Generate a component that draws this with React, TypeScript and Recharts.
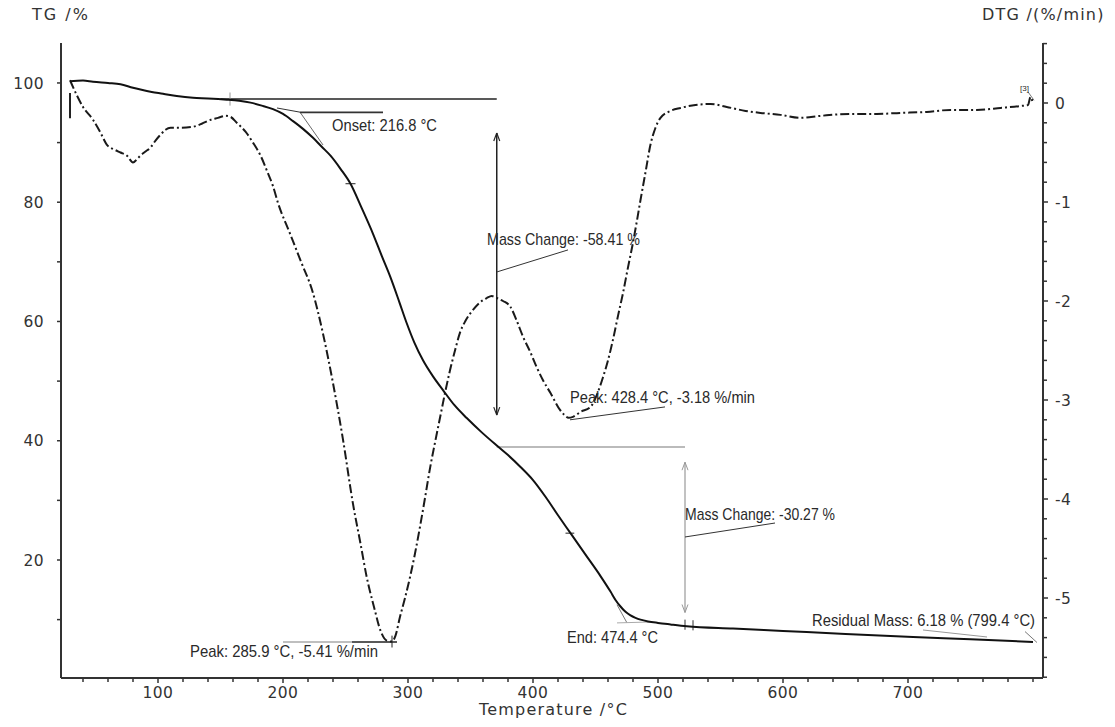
import React from "react";
import { ComposedChart, Line, XAxis, YAxis, ReferenceLine, ReferenceDot } from "recharts";

// ---- TG curve (mass %, left axis) ----
const tgTemp = [29.6, 40, 48, 60, 70, 80, 86, 95, 104, 115, 128, 140, 155, 165, 174, 183, 192, 200, 208, 216, 224, 231, 238, 246, 254, 263, 272, 279, 286, 293, 299, 305, 312, 320, 328, 337, 347, 359, 371, 380, 390, 400, 410, 420, 430, 442, 454, 462, 466, 470, 474, 478, 482, 486, 492, 500, 510, 523, 560, 600, 650, 704, 750, 800];
const tgMass = [100.3, 100.4, 100.2, 100.0, 99.8, 99.2, 98.9, 98.5, 98.2, 97.8, 97.5, 97.4, 97.2, 97.0, 96.7, 96.2, 95.6, 94.8, 93.6, 92.3, 90.8, 89.3, 87.8, 85.6, 83.1, 79.0, 74.7, 71.0, 67.4, 63.3, 59.7, 56.5, 53.5, 50.8, 48.5, 46.0, 43.8, 41.4, 39.2, 37.6, 35.6, 33.4, 30.6, 27.5, 24.5, 20.9, 17.3, 14.7, 13.3, 12.2, 11.3, 10.7, 10.3, 10.0, 9.7, 9.45, 9.2, 8.9, 8.5, 8.1, 7.6, 7.1, 6.7, 6.25];

// ---- DTG curve (%/min, right axis) ----
const dtgTemp = [29.6, 35, 40, 48, 54, 59, 65, 70, 75, 80, 83, 86, 90, 94, 98, 102, 106, 110, 118, 128, 135, 142, 148, 154, 158, 163, 170, 176, 182, 187, 192, 196, 205, 214, 224, 232, 240, 248, 256, 262, 267, 273, 278, 283, 287.2, 290, 293.6, 297.6, 301.6, 305.6, 309.6, 313.6, 317.6, 321.6, 325.6, 329.6, 333.6, 337.6, 341.6, 346, 352, 357, 363, 367, 371, 376, 382, 387, 392, 398, 403, 408, 414, 421.6, 425, 428.4, 432, 438, 446, 451, 456, 460, 464, 468, 472, 476, 480, 483, 486, 490, 494, 498, 502, 510, 518, 530, 542, 555, 570, 582, 598, 614, 630, 654, 675, 694, 715, 734, 755, 774, 790, 796, 798, 800];
const dtgRate = [0.23, 0.08, -0.04, -0.17, -0.3, -0.42, -0.47, -0.5, -0.53, -0.6, -0.57, -0.53, -0.49, -0.45, -0.38, -0.32, -0.27, -0.25, -0.25, -0.24, -0.21, -0.17, -0.15, -0.13, -0.14, -0.2, -0.29, -0.4, -0.53, -0.68, -0.84, -1.01, -1.3, -1.59, -1.92, -2.33, -2.83, -3.4, -4.05, -4.45, -4.79, -5.1, -5.33, -5.43, -5.44, -5.38, -5.19, -5.0, -4.79, -4.55, -4.28, -3.99, -3.69, -3.43, -3.18, -2.93, -2.7, -2.5, -2.32, -2.2, -2.09, -2.02, -1.97, -1.95, -1.97, -2.0, -2.06, -2.2, -2.36, -2.52, -2.67, -2.8, -2.93, -3.1, -3.15, -3.18, -3.17, -3.12, -3.07, -2.95, -2.77, -2.6, -2.39, -2.15, -1.92, -1.66, -1.41, -1.2, -0.98, -0.7, -0.42, -0.25, -0.15, -0.08, -0.05, -0.02, -0.01, -0.04, -0.08, -0.1, -0.12, -0.15, -0.13, -0.11, -0.11, -0.1, -0.09, -0.07, -0.07, -0.05, -0.03, -0.02, 0.06, -0.01];

// ---- ticks ----
const xTicks = [40, 60, 80, 100, 120, 140, 160, 180, 200, 220, 240, 260, 280, 300, 320, 340, 360, 380, 400, 420, 440, 460, 480, 500, 520, 540, 560, 580, 600, 620, 640, 660, 680, 700, 720, 740, 760, 780, 800];
const xLabelTicks = [100, 200, 300, 400, 500, 600, 700];
const tgTicks = [10, 20, 30, 40, 50, 60, 70, 80, 90, 100];
const tgLabelTicks = [20, 40, 60, 80, 100];
const dtgTicks = [-5.8, -5.6, -5.4, -5.2, -5, -4.8, -4.6, -4.4, -4.2, -4, -3.8, -3.6, -3.4, -3.2, -3, -2.8, -2.6, -2.4, -2.2, -2, -1.8, -1.6, -1.4, -1.2, -1, -0.8, -0.6, -0.4, -0.2, 0, 0.2, 0.4, 0.6];
const dtgLabelTicks = [-5, -4, -3, -2, -1, 0];

// ---- axis titles (anchor in data coordinates of TG axis) ----
type Title = { t: number; v: number; text: string; anchor: "start" | "middle"; spacing: number };
const axisTitles: Title[] = [
  { t: -0.8, v: 110.5, text: "TG /%", anchor: "start", spacing: 2 },
  { t: 759.2, v: 110.5, text: "DTG /(%/min)", anchor: "start", spacing: 1.2 },
  { t: 416.4, v: -6.0, text: "Temperature /°C", anchor: "middle", spacing: 1.2 },
];

// ---- annotation lines (data coordinates) ----
type Seg = { axis: "tg" | "dtg"; a: [number, number]; b: [number, number]; color: string; w: number };
const annotationSegments: Seg[] = [
  { axis: "tg", a: [29.6, 98.3], b: [29.6, 94.1], color: "#222", w: 2 },
  { axis: "tg", a: [150, 97.3], b: [371, 97.3], color: "#222", w: 1.6 },
  { axis: "tg", a: [195.2, 95.8], b: [213.6, 95.1], color: "#333", w: 1 },
  { axis: "tg", a: [213.6, 95.1], b: [232, 89.6], color: "#444", w: 0.8 },
  { axis: "tg", a: [213.6, 95.05], b: [280, 95.05], color: "#333", w: 1.8 },
  { axis: "tg", a: [157.6, 98.4], b: [157.6, 96.2], color: "#999", w: 1 },
  { axis: "tg", a: [250, 83.1], b: [258, 83.1], color: "#222", w: 1 },
  { axis: "tg", a: [426, 24.5], b: [433, 24.5], color: "#222", w: 1 },
  // first mass-change arrow
  { axis: "tg", a: [371, 91.6], b: [371, 44.3], color: "#222", w: 1.5 },
  { axis: "tg", a: [368.6, 90.26], b: [371, 91.6], color: "#222", w: 1.2 },
  { axis: "tg", a: [373.4, 90.26], b: [371, 91.6], color: "#222", w: 1.2 },
  { axis: "tg", a: [368.6, 45.64], b: [371, 44.3], color: "#222", w: 1.2 },
  { axis: "tg", a: [373.4, 45.64], b: [371, 44.3], color: "#222", w: 1.2 },
  { axis: "tg", a: [371, 68.3], b: [428, 72.0], color: "#333", w: 1 },
  // second mass-change arrow
  { axis: "tg", a: [371, 38.95], b: [521.6, 38.95], color: "#bbb", w: 2 },
  { axis: "tg", a: [521.6, 36.4], b: [521.6, 11.2], color: "#999", w: 1.2 },
  { axis: "tg", a: [519.2, 35.06], b: [521.6, 36.4], color: "#999", w: 1 },
  { axis: "tg", a: [524, 35.06], b: [521.6, 36.4], color: "#999", w: 1 },
  { axis: "tg", a: [519.2, 12.54], b: [521.6, 11.2], color: "#999", w: 1 },
  { axis: "tg", a: [524, 12.54], b: [521.6, 11.2], color: "#999", w: 1 },
  { axis: "tg", a: [521.6, 23.86], b: [593.6, 26.2], color: "#333", w: 1 },
  // end point
  { axis: "tg", a: [467.2, 12.5], b: [475.2, 9.45], color: "#555", w: 0.8 },
  { axis: "tg", a: [467.2, 9.45], b: [493.6, 9.6], color: "#aaa", w: 1 },
  { axis: "tg", a: [521.6, 10.0], b: [521.6, 8.3], color: "#333", w: 1 },
  { axis: "tg", a: [528, 9.9], b: [528, 8.2], color: "#333", w: 1 },
  // residual mass
  { axis: "tg", a: [712, 8.26], b: [763.2, 7.09], color: "#999", w: 1 },
  { axis: "tg", a: [793.6, 8.0], b: [803.2, 6.16], color: "#555", w: 0.8 },
  { axis: "tg", a: [796, 98.5], b: [800.8, 97.1], color: "#555", w: 0.8 },
  // DTG peaks
  { axis: "dtg", a: [200, -5.444], b: [255.2, -5.444], color: "#aaa", w: 1.5 },
  { axis: "dtg", a: [255.2, -5.444], b: [291.2, -5.444], color: "#222", w: 1.5 },
  { axis: "dtg", a: [287.2, -5.38], b: [287.2, -5.5], color: "#222", w: 1 },
  { axis: "dtg", a: [429.6, -3.2], b: [505.6, -3.07], color: "#333", w: 1 },
];

// ---- annotation texts (left / baseline anchor, data coordinates) ----
type Note = { axis: "tg" | "dtg"; t: number; v: number; text: string; width: number; size: number };
const annotationTexts: Note[] = [
  { axis: "tg", t: 239.2, v: 91.95, text: "Onset: 216.8 °C", width: 105, size: 17 },
  { axis: "tg", t: 363.2, v: 72.8, text: "Mass Change: -58.41 %", width: 153, size: 17 },
  { axis: "dtg", t: 429.6, v: -3.03, text: "Peak: 428.4 °C, -3.18 %/min", width: 185, size: 17 },
  { axis: "tg", t: 521.6, v: 26.7, text: "Mass Change: -30.27 %", width: 150, size: 17 },
  { axis: "dtg", t: 125.6, v: -5.596, text: "Peak: 285.9 °C, -5.41 %/min", width: 188, size: 17 },
  { axis: "tg", t: 427.2, v: 6.1, text: "End: 474.4 °C", width: 91, size: 17 },
  { axis: "tg", t: 623.2, v: 8.93, text: "Residual Mass: 6.18 % (799.4 °C)", width: 223, size: 17 },
  { axis: "tg", t: 789.6, v: 98.7, text: "[3]", width: 9, size: 8 },
];

const tgData = tgTemp.map((t, i) => ({ t, tg: tgMass[i] }));
const dtgData = dtgTemp.map((t, i) => ({ t, dtg: dtgRate[i] }));

const AXIS = "#333";
const TICK_FONT = "'DejaVu Sans', Verdana, sans-serif";
const NOTE_FONT = "'Liberation Sans', Arial, sans-serif";

const XTick = (p: any) => {
  const v = p.payload.value;
  const major = xLabelTicks.includes(v);
  return (
    <g>
      <line x1={p.x} x2={p.x} y1={p.y} y2={p.y + (major ? 5 : 4)} stroke={AXIS} strokeWidth={1.5} />
      {major && (
        <text x={p.x} y={p.y + 20} textAnchor="middle" fontSize={15.5} letterSpacing={0.4} fontFamily={TICK_FONT} fill="#333">
          {v}
        </text>
      )}
    </g>
  );
};

const TgTick = (p: any) => {
  const v = p.payload.value;
  const major = tgLabelTicks.includes(v);
  return (
    <g>
      <line x1={p.x} x2={p.x - 4} y1={p.y} y2={p.y} stroke={AXIS} strokeWidth={1.5} />
      {major && (
        <text x={p.x - 17} y={p.y} dy="0.36em" textAnchor="end" fontSize={15.5} letterSpacing={0.4} fontFamily={TICK_FONT} fill="#333">
          {v}
        </text>
      )}
    </g>
  );
};

const DtgTick = (p: any) => {
  const v = p.payload.value;
  const major = dtgLabelTicks.some((m) => Math.abs(m - v) < 1e-6);
  return (
    <g>
      <line x1={p.x} x2={p.x + (major ? 5 : 4)} y1={p.y} y2={p.y} stroke={AXIS} strokeWidth={1.5} />
      {major && (
        <text x={p.x + 12} y={p.y} dy="0.36em" textAnchor="start" fontSize={15.5} letterSpacing={0.4} fontFamily={TICK_FONT} fill="#333">
          {Math.round(v)}
        </text>
      )}
    </g>
  );
};

const centerOf = (props: any) => {
  const vb = props.viewBox || {};
  return { x: (vb.x ?? 0) + (vb.width ?? 0) / 2, y: (vb.y ?? 0) + (vb.height ?? 0) / 2 };
};

const noteContent = (n: Note) => (props: any) => {
  const c = centerOf(props);
  return (
    <text
      x={c.x}
      y={c.y}
      fontSize={n.size}
      fontFamily={NOTE_FONT}
      fill="#2a2a2a"
      textLength={n.width}
      lengthAdjust="spacingAndGlyphs"
    >
      {n.text}
    </text>
  );
};

const titleContent = (tt: Title) => (props: any) => {
  const c = centerOf(props);
  return (
    <text
      x={c.x}
      y={c.y}
      textAnchor={tt.anchor}
      fontSize={16}
      letterSpacing={tt.spacing}
      fontFamily={TICK_FONT}
      fill="#333"
    >
      {tt.text}
    </text>
  );
};

export default function App() {
  return (
    <div style={{ width: 1107, height: 719 }}>
      <ComposedChart width={1107} height={719} margin={{ top: 35, right: 0, bottom: 0, left: 0 }}>
        <XAxis
          xAxisId={0}
          type="number"
          dataKey="t"
          domain={[22.4, 808]}
          allowDataOverflow
          ticks={xTicks}
          interval={0}
          tick={<XTick />}
          tickSize={0}
          tickMargin={0}
          tickLine={false}
          height={49}
          axisLine={{ stroke: AXIS, strokeWidth: 2 }}
        />
        <YAxis
          yAxisId="tg"
          orientation="left"
          type="number"
          domain={[0.21, 106.7]}
          allowDataOverflow
          ticks={tgTicks}
          interval={0}
          tick={<TgTick />}
          tickSize={0}
          tickMargin={0}
          tickLine={false}
          width={53}
          axisLine={{ stroke: AXIS, strokeWidth: 2 }}
        />
        <YAxis
          yAxisId="dtg"
          orientation="right"
          type="number"
          domain={[-5.808, 0.606]}
          allowDataOverflow
          ticks={dtgTicks}
          interval={0}
          tick={<DtgTick />}
          tickSize={0}
          tickMargin={0}
          tickLine={false}
          width={72}
          axisLine={{ stroke: AXIS, strokeWidth: 2 }}
        />

        {annotationSegments.map((s, i) => (
          <ReferenceLine
            key={"seg" + i}
            yAxisId={s.axis}
            segment={[
              { x: s.a[0], y: s.a[1] },
              { x: s.b[0], y: s.b[1] },
            ]}
            stroke={s.color}
            strokeWidth={s.w}
            ifOverflow="visible"
          />
        ))}

        <Line
          data={dtgData}
          dataKey="dtg"
          yAxisId="dtg"
          type="monotone"
          dot={false}
          stroke="#1a1a1a"
          strokeWidth={2}
          strokeDasharray="9 3 2 3"
          isAnimationActive={false}
        />
        <Line
          data={tgData}
          dataKey="tg"
          yAxisId="tg"
          type="monotone"
          dot={false}
          stroke="#111"
          strokeWidth={2}
          isAnimationActive={false}
        />

        {annotationTexts.map((n, i) => (
          <ReferenceDot
            key={"txt" + i}
            yAxisId={n.axis}
            x={n.t}
            y={n.v}
            r={0}
            fill="none"
            stroke="none"
            ifOverflow="visible"
            label={{ content: noteContent(n) }}
          />
        ))}
        {axisTitles.map((tt, i) => (
          <ReferenceDot
            key={"title" + i}
            yAxisId="tg"
            x={tt.t}
            y={tt.v}
            r={0}
            fill="none"
            stroke="none"
            ifOverflow="visible"
            label={{ content: titleContent(tt) }}
          />
        ))}
      </ComposedChart>
    </div>
  );
}
